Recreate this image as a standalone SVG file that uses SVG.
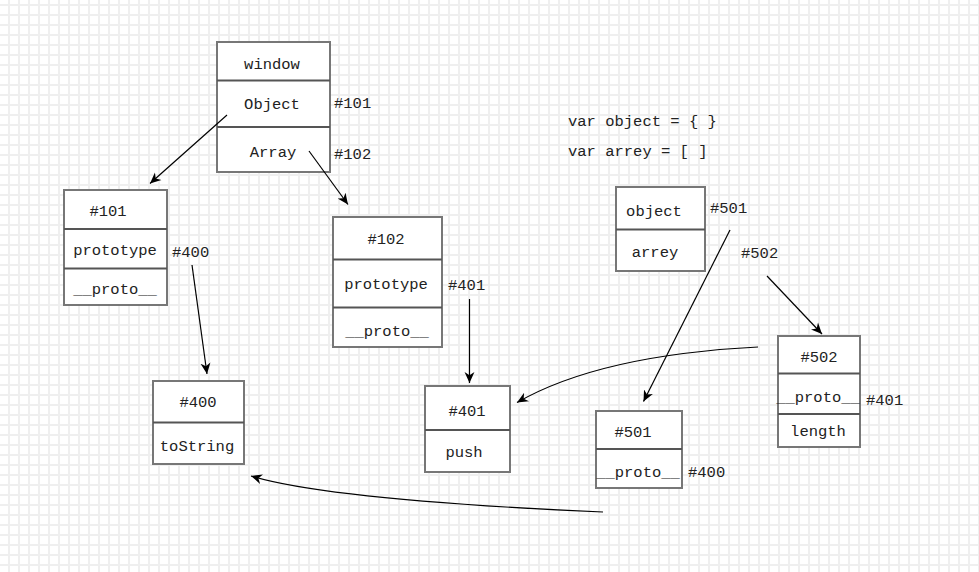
<svg xmlns="http://www.w3.org/2000/svg" width="979" height="572" viewBox="0 0 979 572">
<defs>
<pattern id="grid" x="0" y="0" width="10" height="10" patternUnits="userSpaceOnUse">
<path d="M9 0 V10 M0 5 H10" stroke="#efefef" stroke-width="2" fill="none"/>
</pattern>
<marker id="arr" viewBox="0 0 10 10" refX="10" refY="5" markerWidth="11" markerHeight="11" markerUnits="userSpaceOnUse" orient="auto">
<path d="M0 0.5 L10 5 L0 9.5 L3 5 Z" fill="#000"/>
</marker>
<style>
.box{fill:#fff;stroke:#777;stroke-width:2}
.div{stroke:#555;stroke-width:2}
text{font-family:"Liberation Mono","DejaVu Sans Mono",monospace;font-size:15.5px;fill:#222}
.c{text-anchor:middle}
.edge{fill:none;stroke:#000;stroke-width:1.2;marker-end:url(#arr)}
</style>
</defs>
<rect width="979" height="572" fill="#fff"/>
<rect width="979" height="572" fill="url(#grid)"/>

<g id="window">
<rect class="box" x="217" y="42" width="113" height="130"/>
<line class="div" x1="217" y1="80.5" x2="330" y2="80.5"/>
<line class="div" x1="217" y1="127" x2="330" y2="127"/>
<text class="c" x="272" y="69">window</text>
<text class="c" x="272" y="109">Object</text>
<text class="c" x="273" y="157">Array</text>
</g>
<g id="lbl101"><text x="334" y="108">#101</text></g>
<g id="lbl102"><text x="334" y="159">#102</text></g>

<g id="n101">
<rect class="box" x="64" y="190" width="103" height="115"/>
<line class="div" x1="64" y1="229" x2="167" y2="229"/>
<line class="div" x1="64" y1="268.5" x2="167" y2="268.5"/>
<text class="c" x="108" y="216">#101</text>
<text class="c" x="115" y="255">prototype</text>
<text class="c" x="115" y="294">__proto__</text>
</g>
<g id="lbl400a"><text x="172" y="257">#400</text></g>

<g id="n102">
<rect class="box" x="333" y="217" width="109" height="130"/>
<line class="div" x1="333" y1="259.5" x2="442" y2="259.5"/>
<line class="div" x1="333" y1="307.5" x2="442" y2="307.5"/>
<text class="c" x="386" y="244">#102</text>
<text class="c" x="386" y="289">prototype</text>
<text class="c" x="387" y="336">__proto__</text>
</g>
<g id="lbl401a"><text x="448" y="290">#401</text></g>

<g id="code">
<text x="568" y="126">var object = { }</text>
<text x="568" y="156">var arrey = [ ]</text>
</g>

<g id="vars">
<rect class="box" x="616" y="187" width="89" height="84"/>
<line class="div" x1="616" y1="229.5" x2="705" y2="229.5"/>
<text class="c" x="654" y="216">object</text>
<text class="c" x="655" y="257">arrey</text>
</g>
<g id="lbl501"><text x="710" y="213">#501</text></g>
<g id="lbl502"><text x="741" y="258">#502</text></g>

<g id="n502">
<rect class="box" x="778" y="336" width="82" height="111"/>
<line class="div" x1="778" y1="373.5" x2="860" y2="373.5"/>
<line class="div" x1="778" y1="414" x2="860" y2="414"/>
<text class="c" x="819" y="362">#502</text>
<text class="c" x="818" y="402">__proto__</text>
<text class="c" x="818" y="436">length</text>
</g>
<g id="lbl401b"><text x="866" y="405">#401</text></g>

<g id="n501">
<rect class="box" x="596" y="411" width="86" height="77"/>
<line class="div" x1="596" y1="449" x2="682" y2="449"/>
<text class="c" x="633" y="437">#501</text>
<text class="c" x="638" y="477">__proto__</text>
</g>
<g id="lbl400b"><text x="688" y="477">#400</text></g>

<g id="n400">
<rect class="box" x="153" y="381" width="91" height="83"/>
<line class="div" x1="153" y1="422.5" x2="244" y2="422.5"/>
<text class="c" x="198" y="407">#400</text>
<text class="c" x="197" y="451">toString</text>
</g>

<g id="n401">
<rect class="box" x="425" y="386" width="85" height="86"/>
<line class="div" x1="425" y1="430" x2="510" y2="430"/>
<text class="c" x="467" y="416">#401</text>
<text class="c" x="464" y="457">push</text>
</g>

<g id="connectors">
<path class="edge" d="M227 115 L150 183.5"/>
<path class="edge" d="M309 151 L348 204.5"/>
<path class="edge" d="M192 265 L207 374"/>
<path class="edge" d="M469.5 299 L469.5 383"/>
<path class="edge" d="M758 347 Q600 355 517 402.5"/>
<path class="edge" d="M730 230 L643.5 401.5"/>
<path class="edge" d="M767 276 L822 334"/>
<path class="edge" d="M603 512 Q330 500 251 476"/>
</g>
</svg>
